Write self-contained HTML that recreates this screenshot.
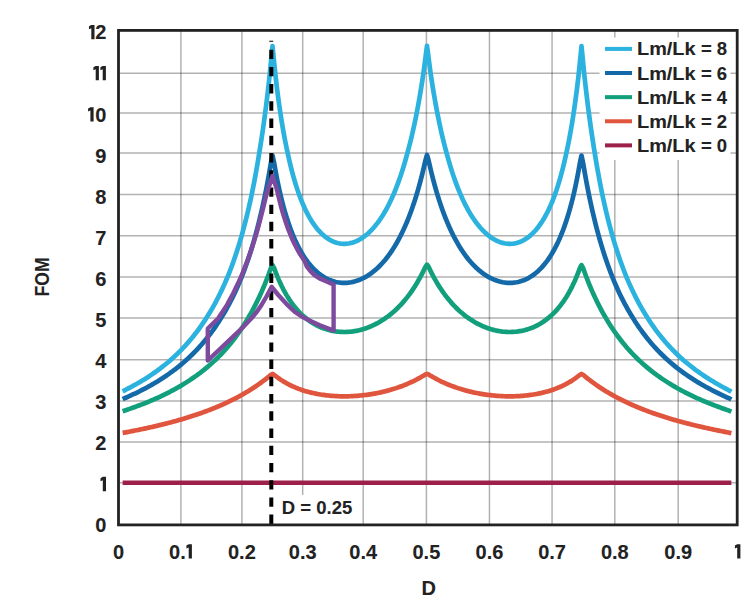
<!DOCTYPE html>
<html><head><meta charset="utf-8"><style>
html,body{margin:0;padding:0;background:#fff;}
body{width:755px;height:602px;position:relative;overflow:hidden;}
svg{position:absolute;left:0;top:0;}
.t{position:absolute;font-family:"Liberation Sans", sans-serif;font-weight:bold;color:#222;white-space:nowrap;line-height:1;-webkit-text-stroke:0.1px #222;}
</style></head><body>
<svg width="755" height="602" viewBox="0 0 755 602">
<rect x="0" y="0" width="755" height="602" fill="#ffffff"/>
<path d="M180.90 30.4V524.9 M241.90 30.4V524.9 M302.70 30.4V524.9 M363.20 30.4V524.9 M426.40 30.4V524.9 M489.45 30.4V524.9 M552.06 30.4V524.9 M614.80 30.4V524.9 M678.20 30.4V524.9" stroke="#000000" stroke-opacity="0.3" stroke-width="1.5" fill="none"/>
<path d="M118.5 482.70H737.2 M118.5 441.96H737.2 M118.5 400.90H737.2 M118.5 359.70H737.2 M118.5 318.10H737.2 M118.5 277.10H737.2 M118.5 235.70H737.2 M118.5 194.45H737.2 M118.5 152.96H737.2 M118.5 113.05H737.2 M118.5 73.20H737.2" stroke="#000000" stroke-opacity="0.3" stroke-width="1.5" fill="none"/>
<rect x="599.5" y="37.5" width="131" height="122.5" fill="#ffffff"/>
<rect x="275.5" y="495" width="86.5" height="29" fill="#ffffff"/>
<path d="M122.64 391.29 L124.18 390.53 L125.72 389.74 L127.27 388.96 L128.81 388.15 L130.36 387.35 L131.91 386.51 L133.45 385.68 L135.00 384.82 L136.54 383.96 L138.09 383.07 L139.63 382.18 L141.18 381.25 L142.72 380.33 L144.26 379.38 L145.81 378.42 L147.35 377.43 L148.90 376.43 L150.44 375.40 L151.99 374.37 L153.53 373.30 L155.08 372.23 L156.62 371.12 L158.17 370.00 L159.72 368.84 L161.26 367.68 L162.81 366.48 L164.35 365.26 L165.90 364.01 L167.44 362.74 L168.99 361.43 L170.53 360.11 L172.07 358.74 L173.62 357.34 L175.16 355.90 L176.71 354.44 L178.25 352.94 L179.80 351.41 L181.34 349.83 L182.89 348.23 L184.44 346.57 L185.98 344.89 L187.53 343.16 L189.07 341.39 L190.62 339.57 L192.16 337.71 L193.70 335.79 L195.25 333.83 L196.80 331.81 L198.34 329.74 L199.88 327.61 L201.43 325.43 L202.98 323.17 L204.52 320.87 L206.06 318.48 L207.61 316.06 L209.16 313.57 L210.70 311.01 L212.25 308.36 L213.79 305.64 L215.33 302.82 L216.88 299.92 L218.43 296.92 L219.97 293.82 L221.51 290.61 L223.06 287.30 L224.60 283.86 L226.15 280.31 L227.69 276.61 L229.24 272.76 L230.78 268.74 L232.33 264.58 L233.88 260.25 L235.42 255.75 L236.97 251.06 L238.51 246.19 L240.06 241.09 L241.60 235.78 L243.15 230.24 L244.69 224.46 L246.23 218.40 L247.78 212.06 L249.32 205.40 L250.87 198.41 L252.41 191.03 L253.96 183.25 L255.50 175.03 L257.05 166.36 L258.60 157.19 L260.14 147.68 L261.69 137.76 L263.23 127.22 L264.77 115.99 L266.32 104.02 L267.87 91.22 L269.41 77.50 L270.96 61.98 L272.50 46.11 L274.04 61.57 L275.59 76.60 L277.13 89.49 L278.68 101.27 L280.23 112.02 L281.77 121.92 L283.31 130.99 L284.86 139.38 L286.40 147.11 L287.95 154.33 L289.50 161.22 L291.04 167.64 L292.58 173.59 L294.13 179.14 L295.67 184.30 L297.22 189.13 L298.76 193.61 L300.31 197.80 L301.86 201.69 L303.40 205.34 L304.94 208.73 L306.49 211.92 L308.03 214.88 L309.58 217.66 L311.12 220.24 L312.67 222.65 L314.22 224.89 L315.76 226.98 L317.31 228.91 L318.85 230.71 L320.39 232.36 L321.94 233.89 L323.49 235.28 L325.03 236.58 L326.58 237.74 L328.12 238.80 L329.67 239.74 L331.21 240.59 L332.75 241.32 L334.30 241.97 L335.85 242.50 L337.39 242.95 L338.94 243.30 L340.48 243.57 L342.02 243.73 L343.57 243.82 L345.12 243.81 L346.66 243.72 L348.21 243.53 L349.75 243.27 L351.29 242.90 L352.84 242.47 L354.38 241.93 L355.93 241.32 L357.48 240.61 L359.02 239.83 L360.56 238.94 L362.11 237.97 L363.65 236.90 L365.20 235.75 L366.75 234.49 L368.29 233.15 L369.83 231.70 L371.38 230.15 L372.92 228.49 L374.47 226.74 L376.01 224.86 L377.56 222.88 L379.11 220.77 L380.65 218.54 L382.19 216.18 L383.74 213.69 L385.29 211.06 L386.83 208.29 L388.38 205.37 L389.92 202.29 L391.46 199.04 L393.01 195.62 L394.56 192.00 L396.10 188.18 L397.64 184.15 L399.19 179.91 L400.74 175.44 L402.28 170.72 L403.82 165.75 L405.37 160.49 L406.92 154.94 L408.46 149.23 L410.00 143.26 L411.55 136.94 L413.09 130.25 L414.64 123.14 L416.19 115.60 L417.73 107.59 L419.27 99.07 L420.82 89.98 L422.37 80.27 L423.91 69.64 L425.45 57.69 L427.00 45.76 L428.54 57.55 L430.09 69.52 L431.63 80.15 L433.18 89.88 L434.72 98.96 L436.27 107.51 L437.81 115.51 L439.36 123.07 L440.90 130.16 L442.45 136.88 L444.00 143.19 L445.54 149.17 L447.08 154.88 L448.63 160.44 L450.18 165.68 L451.72 170.68 L453.26 175.38 L454.81 179.87 L456.36 184.10 L457.90 188.14 L459.44 191.95 L460.99 195.59 L462.54 199.00 L464.08 202.26 L465.62 205.33 L467.17 208.27 L468.71 211.03 L470.26 213.67 L471.81 216.15 L473.35 218.52 L474.89 220.74 L476.44 222.86 L477.99 224.84 L479.53 226.72 L481.07 228.48 L482.62 230.14 L484.17 231.68 L485.71 233.14 L487.25 234.48 L488.80 235.74 L490.35 236.89 L491.89 237.97 L493.44 238.93 L494.98 239.82 L496.53 240.61 L498.07 241.32 L499.62 241.94 L501.16 242.47 L502.71 242.91 L504.25 243.27 L505.79 243.54 L507.34 243.72 L508.88 243.82 L510.43 243.83 L511.97 243.75 L513.52 243.58 L515.07 243.32 L516.61 242.97 L518.15 242.52 L519.70 241.98 L521.25 241.34 L522.79 240.61 L524.34 239.77 L525.88 238.82 L527.42 237.77 L528.97 236.60 L530.51 235.32 L532.06 233.92 L533.61 232.40 L535.15 230.74 L536.69 228.95 L538.24 227.02 L539.79 224.93 L541.33 222.69 L542.88 220.29 L544.42 217.70 L545.96 214.93 L547.51 211.97 L549.06 208.79 L550.60 205.39 L552.14 201.76 L553.69 197.86 L555.24 193.69 L556.78 189.19 L558.33 184.38 L559.87 179.22 L561.41 173.68 L562.96 167.73 L564.50 161.33 L566.05 154.43 L567.60 147.22 L569.14 139.49 L570.68 131.12 L572.23 122.04 L573.78 112.17 L575.32 101.41 L576.87 89.67 L578.41 76.77 L579.96 61.80 L581.50 46.14 L583.04 61.81 L584.59 77.38 L586.13 91.09 L587.68 103.92 L589.22 115.88 L590.77 127.14 L592.32 137.67 L593.86 147.61 L595.40 157.10 L596.95 166.30 L598.50 174.96 L600.04 183.19 L601.59 190.97 L603.13 198.36 L604.67 205.34 L606.22 212.02 L607.76 218.35 L609.31 224.43 L610.86 230.20 L612.40 235.75 L613.94 241.05 L615.49 246.16 L617.04 251.03 L618.58 255.73 L620.12 260.23 L621.67 264.57 L623.21 268.72 L624.76 272.74 L626.31 276.60 L627.85 280.30 L629.39 283.85 L630.94 287.29 L632.49 290.60 L634.03 293.82 L635.58 296.91 L637.12 299.92 L638.66 302.82 L640.21 305.64 L641.75 308.36 L643.30 311.01 L644.85 313.58 L646.39 316.07 L647.94 318.49 L649.48 320.87 L651.02 323.19 L652.57 325.44 L654.12 327.62 L655.66 329.76 L657.21 331.83 L658.75 333.85 L660.29 335.81 L661.84 337.73 L663.38 339.59 L664.93 341.41 L666.48 343.18 L668.02 344.92 L669.56 346.60 L671.11 348.25 L672.65 349.86 L674.20 351.43 L675.75 352.97 L677.29 354.47 L678.84 355.94 L680.38 357.37 L681.92 358.78 L683.47 360.15 L685.01 361.48 L686.56 362.78 L688.11 364.05 L689.65 365.30 L691.20 366.52 L692.74 367.72 L694.28 368.89 L695.83 370.04 L697.38 371.17 L698.92 372.28 L700.47 373.36 L702.01 374.43 L703.55 375.47 L705.10 376.49 L706.64 377.50 L708.19 378.49 L709.74 379.46 L711.28 380.41 L712.83 381.35 L714.37 382.27 L715.91 383.18 L717.46 384.07 L719.00 384.95 L720.55 385.81 L722.10 386.68 L723.64 387.51 L725.19 388.36 L726.73 389.18 L728.27 390.04 L729.82 390.86 L731.37 391.79" stroke="#2bb2de" stroke-width="4.7" fill="none" stroke-linejoin="round" stroke-linecap="butt"/>
<path d="M122.64 399.06 L124.18 398.40 L125.72 397.73 L127.27 397.05 L128.81 396.37 L130.36 395.67 L131.91 394.96 L133.45 394.24 L135.00 393.51 L136.54 392.77 L138.09 392.02 L139.63 391.25 L141.18 390.47 L142.72 389.68 L144.26 388.88 L145.81 388.06 L147.35 387.23 L148.90 386.38 L150.44 385.51 L151.99 384.63 L153.53 383.74 L155.08 382.83 L156.62 381.90 L158.17 380.96 L159.72 379.99 L161.26 379.01 L162.81 378.01 L164.35 376.99 L165.90 375.96 L167.44 374.90 L168.99 373.82 L170.53 372.71 L172.07 371.59 L173.62 370.44 L175.16 369.27 L176.71 368.07 L178.25 366.85 L179.80 365.60 L181.34 364.33 L182.89 363.03 L184.44 361.69 L185.98 360.33 L187.53 358.93 L189.07 357.50 L190.62 356.02 L192.16 354.52 L193.70 352.98 L195.25 351.40 L196.80 349.78 L198.34 348.13 L199.88 346.43 L201.43 344.69 L202.98 342.90 L204.52 341.07 L206.06 339.19 L207.61 337.27 L209.16 335.29 L210.70 333.25 L212.25 331.16 L213.79 329.01 L215.33 326.80 L216.88 324.53 L218.43 322.19 L219.97 319.78 L221.51 317.31 L223.06 314.78 L224.60 312.18 L226.15 309.50 L227.69 306.73 L229.24 303.87 L230.78 300.92 L232.33 297.87 L233.88 294.71 L235.42 291.44 L236.97 288.06 L238.51 284.55 L240.06 280.92 L241.60 277.14 L243.15 273.19 L244.69 269.08 L246.23 264.81 L247.78 260.37 L249.32 255.74 L250.87 250.92 L252.41 245.88 L253.96 240.63 L255.50 235.14 L257.05 229.42 L258.60 223.42 L260.14 217.14 L261.69 210.54 L263.23 203.61 L264.77 196.32 L266.32 188.60 L267.87 180.45 L269.41 171.84 L270.96 162.72 L272.50 155.52 L274.04 162.49 L275.59 171.27 L277.13 179.36 L278.68 186.84 L280.23 193.76 L281.77 200.15 L283.31 206.09 L284.86 211.61 L286.40 216.76 L287.95 221.57 L289.50 226.06 L291.04 230.26 L292.58 234.19 L294.13 237.88 L295.67 241.35 L297.22 244.59 L298.76 247.64 L300.31 250.50 L301.86 253.18 L303.40 255.70 L304.94 258.06 L306.49 260.27 L308.03 262.35 L309.58 264.29 L311.12 266.11 L312.67 267.81 L314.22 269.39 L315.76 270.87 L317.31 272.25 L318.85 273.53 L320.39 274.71 L321.94 275.80 L323.49 276.80 L325.03 277.71 L326.58 278.54 L328.12 279.29 L329.67 279.96 L331.21 280.56 L332.75 281.09 L334.30 281.54 L335.85 281.93 L337.39 282.25 L338.94 282.50 L340.48 282.68 L342.02 282.81 L343.57 282.86 L345.12 282.86 L346.66 282.79 L348.21 282.66 L349.75 282.47 L351.29 282.22 L352.84 281.90 L354.38 281.52 L355.93 281.08 L357.48 280.58 L359.02 280.02 L360.56 279.39 L362.11 278.70 L363.65 277.95 L365.20 277.13 L366.75 276.23 L368.29 275.27 L369.83 274.23 L371.38 273.13 L372.92 271.95 L374.47 270.70 L376.01 269.37 L377.56 267.97 L379.11 266.48 L380.65 264.91 L382.19 263.26 L383.74 261.52 L385.29 259.68 L386.83 257.75 L388.38 255.72 L389.92 253.59 L391.46 251.36 L393.01 249.01 L394.56 246.55 L396.10 243.96 L397.64 241.25 L399.19 238.40 L400.74 235.42 L402.28 232.30 L403.82 229.02 L405.37 225.59 L406.92 221.98 L408.46 218.18 L410.00 214.20 L411.55 210.01 L413.09 205.60 L414.64 200.97 L416.19 196.08 L417.73 190.91 L419.27 185.45 L420.82 179.68 L422.37 173.58 L423.91 167.13 L425.45 160.29 L427.00 154.90 L428.54 160.22 L430.09 167.05 L431.63 173.51 L433.18 179.61 L434.72 185.38 L436.27 190.85 L437.81 196.03 L439.36 200.91 L440.90 205.55 L442.45 209.96 L444.00 214.16 L445.54 218.14 L447.08 221.94 L448.63 225.55 L450.18 228.99 L451.72 232.26 L453.26 235.39 L454.81 238.37 L456.36 241.22 L457.90 243.93 L459.44 246.52 L460.99 248.98 L462.54 251.33 L464.08 253.57 L465.62 255.70 L467.17 257.73 L468.71 259.66 L470.26 261.50 L471.81 263.24 L473.35 264.90 L474.89 266.47 L476.44 267.95 L477.99 269.36 L479.53 270.69 L481.07 271.94 L482.62 273.12 L484.17 274.23 L485.71 275.26 L487.25 276.23 L488.80 277.12 L490.35 277.94 L491.89 278.70 L493.44 279.39 L494.98 280.02 L496.53 280.58 L498.07 281.09 L499.62 281.53 L501.16 281.90 L502.71 282.22 L504.25 282.47 L505.79 282.67 L507.34 282.80 L508.88 282.87 L510.43 282.87 L511.97 282.82 L513.52 282.70 L515.07 282.51 L516.61 282.26 L518.15 281.94 L519.70 281.56 L521.25 281.10 L522.79 280.58 L524.34 279.98 L525.88 279.31 L527.42 278.56 L528.97 277.73 L530.51 276.82 L532.06 275.82 L533.61 274.73 L535.15 273.55 L536.69 272.28 L538.24 270.90 L539.79 269.42 L541.33 267.84 L542.88 266.14 L544.42 264.33 L545.96 262.38 L547.51 260.31 L549.06 258.10 L550.60 255.74 L552.14 253.23 L553.69 250.55 L555.24 247.69 L556.78 244.64 L558.33 241.40 L559.87 237.94 L561.41 234.25 L562.96 230.32 L564.50 226.13 L566.05 221.64 L567.60 216.84 L569.14 211.69 L570.68 206.17 L572.23 200.24 L573.78 193.86 L575.32 186.94 L576.87 179.47 L578.41 171.39 L579.96 162.62 L581.50 155.55 L583.04 162.64 L584.59 171.76 L586.13 180.38 L587.68 188.54 L589.22 196.26 L590.77 203.56 L592.32 210.49 L593.86 217.09 L595.40 223.38 L596.95 229.38 L598.50 235.10 L600.04 240.59 L601.59 245.85 L603.13 250.88 L604.67 255.71 L606.22 260.34 L607.76 264.79 L609.31 269.06 L610.86 273.17 L612.40 277.12 L613.94 280.90 L615.49 284.53 L617.04 288.04 L618.58 291.43 L620.12 294.70 L621.67 297.86 L623.21 300.91 L624.76 303.87 L626.31 306.73 L627.85 309.50 L629.39 312.18 L630.94 314.78 L632.49 317.30 L634.03 319.78 L635.58 322.19 L637.12 324.53 L638.66 326.81 L640.21 329.02 L641.75 331.17 L643.30 333.26 L644.85 335.29 L646.39 337.28 L647.94 339.21 L649.48 341.09 L651.02 342.92 L652.57 344.70 L654.12 346.44 L655.66 348.14 L657.21 349.80 L658.75 351.42 L660.29 353.00 L661.84 354.54 L663.38 356.04 L664.93 357.52 L666.48 358.96 L668.02 360.36 L669.56 361.72 L671.11 363.05 L672.65 364.35 L674.20 365.63 L675.75 366.88 L677.29 368.10 L678.84 369.30 L680.38 370.47 L681.92 371.62 L683.47 372.75 L685.01 373.85 L686.56 374.93 L688.11 375.99 L689.65 377.03 L691.20 378.05 L692.74 379.06 L694.28 380.04 L695.83 381.00 L697.38 381.95 L698.92 382.88 L700.47 383.79 L702.01 384.69 L703.55 385.57 L705.10 386.44 L706.64 387.29 L708.19 388.13 L709.74 388.95 L711.28 389.76 L712.83 390.56 L714.37 391.34 L715.91 392.12 L717.46 392.88 L719.00 393.63 L720.55 394.37 L722.10 395.11 L723.64 395.83 L725.19 396.55 L726.73 397.27 L728.27 397.99 L729.82 398.73 L731.37 399.51" stroke="#1469a9" stroke-width="4.7" fill="none" stroke-linejoin="round" stroke-linecap="butt"/>
<path d="M122.64 411.19 L124.18 410.69 L125.72 410.18 L127.27 409.66 L128.81 409.14 L130.36 408.60 L131.91 408.07 L133.45 407.52 L135.00 406.96 L136.54 406.40 L138.09 405.83 L139.63 405.25 L141.18 404.66 L142.72 404.07 L144.26 403.46 L145.81 402.85 L147.35 402.22 L148.90 401.59 L150.44 400.94 L151.99 400.29 L153.53 399.62 L155.08 398.94 L156.62 398.25 L158.17 397.55 L159.72 396.84 L161.26 396.11 L162.81 395.38 L164.35 394.63 L165.90 393.87 L167.44 393.09 L168.99 392.30 L170.53 391.50 L172.07 390.68 L173.62 389.85 L175.16 389.00 L176.71 388.14 L178.25 387.26 L179.80 386.37 L181.34 385.46 L182.89 384.53 L184.44 383.58 L185.98 382.62 L187.53 381.63 L189.07 380.63 L190.62 379.61 L192.16 378.56 L193.70 377.50 L195.25 376.41 L196.80 375.30 L198.34 374.17 L199.88 373.01 L201.43 371.83 L202.98 370.63 L204.52 369.39 L206.06 368.13 L207.61 366.84 L209.16 365.53 L210.70 364.18 L212.25 362.80 L213.79 361.39 L215.33 359.94 L216.88 358.45 L218.43 356.92 L219.97 355.35 L221.51 353.75 L223.06 352.10 L224.60 350.41 L226.15 348.68 L227.69 346.90 L229.24 345.07 L230.78 343.20 L232.33 341.27 L233.88 339.29 L235.42 337.26 L236.97 335.17 L238.51 333.01 L240.06 330.80 L241.60 328.52 L243.15 326.17 L244.69 323.75 L246.23 321.25 L247.78 318.67 L249.32 316.04 L250.87 313.34 L252.41 310.54 L253.96 307.65 L255.50 304.67 L257.05 301.57 L258.60 298.37 L260.14 295.05 L261.69 291.61 L263.23 288.04 L264.77 284.34 L266.32 280.49 L267.87 276.48 L269.41 272.27 L270.96 267.92 L272.50 265.08 L274.04 267.81 L275.59 272.00 L277.13 275.94 L278.68 279.62 L280.23 283.05 L281.77 286.28 L283.31 289.31 L284.86 292.17 L286.40 294.86 L287.95 297.39 L289.50 299.78 L291.04 302.03 L292.58 304.15 L294.13 306.16 L295.67 308.05 L297.22 309.83 L298.76 311.52 L300.31 313.11 L301.86 314.61 L303.40 316.02 L304.94 317.36 L306.49 318.62 L308.03 319.82 L309.58 320.95 L311.12 322.01 L312.67 323.00 L314.22 323.93 L315.76 324.80 L317.31 325.62 L318.85 326.37 L320.39 327.07 L321.94 327.72 L323.49 328.32 L325.03 328.87 L326.58 329.36 L328.12 329.82 L329.67 330.23 L331.21 330.59 L332.75 330.91 L334.30 331.18 L335.85 331.42 L337.39 331.61 L338.94 331.77 L340.48 331.88 L342.02 331.95 L343.57 331.99 L345.12 331.99 L346.66 331.94 L348.21 331.86 L349.75 331.75 L351.29 331.59 L352.84 331.40 L354.38 331.17 L355.93 330.91 L357.48 330.60 L359.02 330.26 L360.56 329.88 L362.11 329.46 L363.65 329.01 L365.20 328.51 L366.75 327.98 L368.29 327.40 L369.83 326.79 L371.38 326.14 L372.92 325.44 L374.47 324.70 L376.01 323.92 L377.56 323.10 L379.11 322.23 L380.65 321.31 L382.19 320.35 L383.74 319.34 L385.29 318.28 L386.83 317.19 L388.38 316.04 L389.92 314.84 L391.46 313.59 L393.01 312.28 L394.56 310.91 L396.10 309.49 L397.64 308.00 L399.19 306.44 L400.74 304.82 L402.28 303.13 L403.82 301.37 L405.37 299.53 L406.92 297.61 L408.46 295.61 L410.00 293.52 L411.55 291.34 L413.09 289.07 L414.64 286.70 L416.19 284.22 L417.73 281.64 L419.27 278.93 L420.82 276.10 L422.37 273.12 L423.91 270.01 L425.45 266.77 L427.00 264.65 L428.54 266.73 L430.09 269.97 L431.63 273.09 L433.18 276.07 L434.72 278.91 L436.27 281.61 L437.81 284.19 L439.36 286.67 L440.90 289.04 L442.45 291.32 L444.00 293.50 L445.54 295.59 L447.08 297.59 L448.63 299.51 L450.18 301.35 L451.72 303.11 L453.26 304.81 L454.81 306.43 L456.36 307.98 L457.90 309.47 L459.44 310.90 L460.99 312.27 L462.54 313.58 L464.08 314.83 L465.62 316.03 L467.17 317.18 L468.71 318.27 L470.26 319.33 L471.81 320.34 L473.35 321.31 L474.89 322.22 L476.44 323.09 L477.99 323.92 L479.53 324.70 L481.07 325.44 L482.62 326.13 L484.17 326.79 L485.71 327.40 L487.25 327.98 L488.80 328.51 L490.35 329.01 L491.89 329.46 L493.44 329.88 L494.98 330.26 L496.53 330.60 L498.07 330.91 L499.62 331.18 L501.16 331.41 L502.71 331.60 L504.25 331.75 L505.79 331.87 L507.34 331.95 L508.88 331.99 L510.43 332.00 L511.97 331.96 L513.52 331.89 L515.07 331.77 L516.61 331.62 L518.15 331.43 L519.70 331.19 L521.25 330.92 L522.79 330.60 L524.34 330.24 L525.88 329.83 L527.42 329.38 L528.97 328.88 L530.51 328.33 L532.06 327.73 L533.61 327.09 L535.15 326.39 L536.69 325.63 L538.24 324.82 L539.79 323.95 L541.33 323.02 L542.88 322.03 L544.42 320.97 L545.96 319.84 L547.51 318.65 L549.06 317.38 L550.60 316.05 L552.14 314.64 L553.69 313.14 L555.24 311.55 L556.78 309.86 L558.33 308.08 L559.87 306.19 L561.41 304.19 L562.96 302.06 L564.50 299.81 L566.05 297.43 L567.60 294.90 L569.14 292.21 L570.68 289.36 L572.23 286.33 L573.78 283.10 L575.32 279.67 L576.87 276.00 L578.41 272.06 L579.96 267.87 L581.50 265.10 L583.04 267.90 L584.59 272.25 L586.13 276.45 L587.68 280.46 L589.22 284.32 L590.77 288.02 L592.32 291.59 L593.86 295.03 L595.40 298.35 L596.95 301.56 L598.50 304.65 L600.04 307.64 L601.59 310.53 L603.13 313.33 L604.67 316.03 L606.22 318.66 L607.76 321.24 L609.31 323.74 L610.86 326.16 L612.40 328.51 L613.94 330.79 L615.49 333.01 L617.04 335.16 L618.58 337.26 L620.12 339.29 L621.67 341.27 L623.21 343.20 L624.76 345.07 L626.31 346.90 L627.85 348.68 L629.39 350.41 L630.94 352.10 L632.49 353.75 L634.03 355.36 L635.58 356.93 L637.12 358.46 L638.66 359.95 L640.21 361.40 L641.75 362.81 L643.30 364.19 L644.85 365.54 L646.39 366.86 L647.94 368.14 L649.48 369.41 L651.02 370.64 L652.57 371.85 L654.12 373.03 L655.66 374.19 L657.21 375.32 L658.75 376.43 L660.29 377.52 L661.84 378.58 L663.38 379.63 L664.93 380.65 L666.48 381.65 L668.02 382.64 L669.56 383.60 L671.11 384.55 L672.65 385.48 L674.20 386.39 L675.75 387.29 L677.29 388.17 L678.84 389.03 L680.38 389.88 L681.92 390.71 L683.47 391.53 L685.01 392.33 L686.56 393.12 L688.11 393.90 L689.65 394.66 L691.20 395.41 L692.74 396.15 L694.28 396.88 L695.83 397.59 L697.38 398.29 L698.92 398.98 L700.47 399.66 L702.01 400.33 L703.55 400.99 L705.10 401.64 L706.64 402.28 L708.19 402.91 L709.74 403.53 L711.28 404.14 L712.83 404.74 L714.37 405.33 L715.91 405.92 L717.46 406.50 L719.00 407.07 L720.55 407.63 L722.10 408.19 L723.64 408.75 L725.19 409.30 L726.73 409.85 L728.27 410.41 L729.82 410.98 L731.37 411.58" stroke="#12a07c" stroke-width="4.7" fill="none" stroke-linejoin="round" stroke-linecap="butt"/>
<path d="M122.64 432.92 L124.18 432.64 L125.72 432.35 L127.27 432.07 L128.81 431.77 L130.36 431.48 L131.91 431.18 L133.45 430.88 L135.00 430.57 L136.54 430.27 L138.09 429.95 L139.63 429.64 L141.18 429.32 L142.72 428.99 L144.26 428.67 L145.81 428.33 L147.35 428.00 L148.90 427.66 L150.44 427.31 L151.99 426.96 L153.53 426.61 L155.08 426.25 L156.62 425.89 L158.17 425.53 L159.72 425.16 L161.26 424.78 L162.81 424.40 L164.35 424.01 L165.90 423.62 L167.44 423.22 L168.99 422.82 L170.53 422.42 L172.07 422.00 L173.62 421.58 L175.16 421.16 L176.71 420.73 L178.25 420.29 L179.80 419.85 L181.34 419.40 L182.89 418.95 L184.44 418.49 L185.98 418.02 L187.53 417.54 L189.07 417.06 L190.62 416.57 L192.16 416.08 L193.70 415.57 L195.25 415.06 L196.80 414.54 L198.34 414.01 L199.88 413.48 L201.43 412.93 L202.98 412.38 L204.52 411.82 L206.06 411.25 L207.61 410.67 L209.16 410.08 L210.70 409.48 L212.25 408.87 L213.79 408.26 L215.33 407.63 L216.88 406.99 L218.43 406.34 L219.97 405.67 L221.51 405.00 L223.06 404.31 L224.60 403.62 L226.15 402.91 L227.69 402.18 L229.24 401.45 L230.78 400.70 L232.33 399.93 L233.88 399.15 L235.42 398.36 L236.97 397.55 L238.51 396.72 L240.06 395.88 L241.60 395.02 L243.15 394.14 L244.69 393.25 L246.23 392.34 L247.78 391.41 L249.32 390.46 L250.87 389.49 L252.41 388.50 L253.96 387.49 L255.50 386.46 L257.05 385.40 L258.60 384.33 L260.14 383.22 L261.69 382.10 L263.23 380.95 L264.77 379.77 L266.32 378.56 L267.87 377.32 L269.41 376.06 L270.96 374.77 L272.50 373.95 L274.04 374.74 L275.59 375.98 L277.13 377.16 L278.68 378.29 L280.23 379.36 L281.77 380.38 L283.31 381.36 L284.86 382.28 L286.40 383.16 L287.95 384.00 L289.50 384.80 L291.04 385.56 L292.58 386.28 L294.13 386.97 L295.67 387.63 L297.22 388.25 L298.76 388.85 L300.31 389.41 L301.86 389.95 L303.40 390.45 L304.94 390.94 L306.49 391.39 L308.03 391.82 L309.58 392.23 L311.12 392.62 L312.67 392.98 L314.22 393.32 L315.76 393.64 L317.31 393.94 L318.85 394.22 L320.39 394.48 L321.94 394.72 L323.49 394.94 L325.03 395.15 L326.58 395.34 L328.12 395.51 L329.67 395.66 L331.21 395.80 L332.75 395.92 L334.30 396.02 L335.85 396.11 L337.39 396.19 L338.94 396.24 L340.48 396.29 L342.02 396.32 L343.57 396.33 L345.12 396.33 L346.66 396.31 L348.21 396.28 L349.75 396.24 L351.29 396.18 L352.84 396.11 L354.38 396.02 L355.93 395.92 L357.48 395.80 L359.02 395.67 L360.56 395.53 L362.11 395.37 L363.65 395.20 L365.20 395.02 L366.75 394.82 L368.29 394.60 L369.83 394.38 L371.38 394.13 L372.92 393.87 L374.47 393.60 L376.01 393.32 L377.56 393.01 L379.11 392.70 L380.65 392.36 L382.19 392.01 L383.74 391.65 L385.29 391.27 L386.83 390.87 L388.38 390.46 L389.92 390.03 L391.46 389.58 L393.01 389.12 L394.56 388.63 L396.10 388.13 L397.64 387.61 L399.19 387.07 L400.74 386.51 L402.28 385.93 L403.82 385.34 L405.37 384.71 L406.92 384.07 L408.46 383.41 L410.00 382.72 L411.55 382.01 L413.09 381.28 L414.64 380.52 L416.19 379.73 L417.73 378.92 L419.27 378.08 L420.82 377.21 L422.37 376.32 L423.91 375.39 L425.45 374.44 L427.00 373.82 L428.54 374.43 L430.09 375.38 L431.63 376.31 L433.18 377.21 L434.72 378.07 L436.27 378.91 L437.81 379.72 L439.36 380.51 L440.90 381.27 L442.45 382.01 L444.00 382.72 L445.54 383.40 L447.08 384.07 L448.63 384.71 L450.18 385.33 L451.72 385.93 L453.26 386.51 L454.81 387.07 L456.36 387.61 L457.90 388.13 L459.44 388.63 L460.99 389.11 L462.54 389.58 L464.08 390.03 L465.62 390.46 L467.17 390.87 L468.71 391.27 L470.26 391.65 L471.81 392.01 L473.35 392.36 L474.89 392.69 L476.44 393.01 L477.99 393.31 L479.53 393.60 L481.07 393.87 L482.62 394.13 L484.17 394.38 L485.71 394.60 L487.25 394.82 L488.80 395.02 L490.35 395.20 L491.89 395.37 L493.44 395.53 L494.98 395.68 L496.53 395.80 L498.07 395.92 L499.62 396.02 L501.16 396.11 L502.71 396.18 L504.25 396.24 L505.79 396.28 L507.34 396.32 L508.88 396.33 L510.43 396.33 L511.97 396.32 L513.52 396.29 L515.07 396.25 L516.61 396.19 L518.15 396.12 L519.70 396.03 L521.25 395.92 L522.79 395.80 L524.34 395.67 L525.88 395.51 L527.42 395.34 L528.97 395.16 L530.51 394.95 L532.06 394.73 L533.61 394.49 L535.15 394.23 L536.69 393.95 L538.24 393.65 L539.79 393.33 L541.33 392.99 L542.88 392.62 L544.42 392.24 L545.96 391.83 L547.51 391.40 L549.06 390.95 L550.60 390.46 L552.14 389.96 L553.69 389.42 L555.24 388.86 L556.78 388.27 L558.33 387.64 L559.87 386.99 L561.41 386.30 L562.96 385.57 L564.50 384.81 L566.05 384.02 L567.60 383.18 L569.14 382.30 L570.68 381.37 L572.23 380.40 L573.78 379.38 L575.32 378.31 L576.87 377.18 L578.41 376.00 L579.96 374.77 L581.50 373.96 L583.04 374.77 L584.59 376.06 L586.13 377.32 L587.68 378.56 L589.22 379.77 L590.77 380.94 L592.32 382.10 L593.86 383.22 L595.40 384.33 L596.95 385.40 L598.50 386.46 L600.04 387.49 L601.59 388.50 L603.13 389.49 L604.67 390.46 L606.22 391.41 L607.76 392.34 L609.31 393.25 L610.86 394.14 L612.40 395.02 L613.94 395.88 L615.49 396.72 L617.04 397.55 L618.58 398.36 L620.12 399.15 L621.67 399.94 L623.21 400.70 L624.76 401.45 L626.31 402.19 L627.85 402.91 L629.39 403.62 L630.94 404.32 L632.49 405.01 L634.03 405.68 L635.58 406.34 L637.12 406.99 L638.66 407.63 L640.21 408.26 L641.75 408.88 L643.30 409.49 L644.85 410.09 L646.39 410.68 L647.94 411.26 L649.48 411.83 L651.02 412.39 L652.57 412.94 L654.12 413.49 L655.66 414.03 L657.21 414.55 L658.75 415.07 L660.29 415.59 L661.84 416.09 L663.38 416.59 L664.93 417.08 L666.48 417.56 L668.02 418.03 L669.56 418.50 L671.11 418.97 L672.65 419.42 L674.20 419.87 L675.75 420.31 L677.29 420.75 L678.84 421.18 L680.38 421.60 L681.92 422.02 L683.47 422.44 L685.01 422.85 L686.56 423.25 L688.11 423.65 L689.65 424.04 L691.20 424.42 L692.74 424.81 L694.28 425.18 L695.83 425.56 L697.38 425.92 L698.92 426.29 L700.47 426.65 L702.01 427.00 L703.55 427.35 L705.10 427.70 L706.64 428.04 L708.19 428.38 L709.74 428.71 L711.28 429.04 L712.83 429.37 L714.37 429.69 L715.91 430.01 L717.46 430.33 L719.00 430.65 L720.55 430.96 L722.10 431.27 L723.64 431.58 L725.19 431.89 L726.73 432.20 L728.27 432.51 L729.82 432.84 L731.37 433.19" stroke="#e0553d" stroke-width="4.7" fill="none" stroke-linejoin="round" stroke-linecap="butt"/>
<path d="M122.64 482.70H731.37" stroke="#9c2049" stroke-width="4.5" fill="none"/>
<path d="M271.3 524V40.8" stroke="#000000" stroke-width="4.0" stroke-dasharray="9.4 7.82" fill="none"/>
<path d="M207.80 328.50 L218.30 318.30 L227.06 304.85 L229.87 299.60 L232.87 294.12 L235.89 287.74 L238.92 281.43 L241.95 274.74 L245.03 266.86 L248.11 259.05 L251.15 250.22 L254.13 240.85 L257.13 231.07 L260.15 219.85 L263.19 207.92 L266.24 195.24 L272.40 176.00 L276.65 188.67 L279.00 198.56 L281.35 207.88 L283.70 215.76 L286.04 222.96 L288.39 229.69 L290.74 235.45 L293.09 241.09 L295.44 245.83 L297.79 250.22 L300.13 254.37 L302.48 257.88 L304.83 261.41 L306.90 266.60 L310.90 271.60 L314.60 275.20 L319.50 278.40 L325.50 280.90 L333.60 284.60 L333.60 330.50 L319.80 325.30 L311.50 321.50 L303.20 317.40 L294.90 312.00 L286.60 304.10 L278.30 295.00 L271.70 286.80 L266.50 296.50 L261.50 305.00 L256.50 312.20 L251.50 318.30 L240.00 330.20 L207.80 360.50Z" stroke="#7e4a9e" stroke-width="4.4" fill="none" stroke-linejoin="round"/>
<rect x="118.5" y="30.4" width="618.7" height="494.5" stroke="#222222" stroke-width="2.8" fill="none"/>
<path d="M605 48.90H632" stroke="#2bb2de" stroke-width="4"/>
<path d="M605 73.02H632" stroke="#1469a9" stroke-width="4"/>
<path d="M605 97.14H632" stroke="#12a07c" stroke-width="4"/>
<path d="M605 121.26H632" stroke="#e0553d" stroke-width="4"/>
<path d="M605 145.38H632" stroke="#9c2049" stroke-width="4"/>
</svg>
<div class="t" style="left:106.30px;top:525.30px;font-size:20px;transform:translate(-100%,-50%)">0</div><div class="t" style="left:106.30px;top:443.15px;font-size:20px;transform:translate(-100%,-50%)">2</div><div class="t" style="left:106.30px;top:402.07px;font-size:20px;transform:translate(-100%,-50%)">3</div><div class="t" style="left:106.30px;top:361.00px;font-size:20px;transform:translate(-100%,-50%)">4</div><div class="t" style="left:106.30px;top:319.93px;font-size:20px;transform:translate(-100%,-50%)">5</div><div class="t" style="left:106.30px;top:278.85px;font-size:20px;transform:translate(-100%,-50%)">6</div><div class="t" style="left:106.30px;top:237.77px;font-size:20px;transform:translate(-100%,-50%)">7</div><div class="t" style="left:106.30px;top:196.70px;font-size:20px;transform:translate(-100%,-50%)">8</div><div class="t" style="left:106.30px;top:155.62px;font-size:20px;transform:translate(-100%,-50%)">9</div><div class="t" style="left:106.30px;top:114.55px;font-size:20px;transform:translate(-100%,-50%)">0</div><div class="t" style="left:106.30px;top:32.40px;font-size:20px;transform:translate(-100%,-50%)">2</div><div class="t" style="left:118.50px;top:551.50px;font-size:20px;transform:translate(-50%,-50%)">0</div><div class="t" style="left:169.10px;top:551.50px;font-size:20px;transform:translate(0,-50%)">0.</div><div class="t" style="left:241.90px;top:551.50px;font-size:20px;transform:translate(-50%,-50%)">0.2</div><div class="t" style="left:302.70px;top:551.50px;font-size:20px;transform:translate(-50%,-50%)">0.3</div><div class="t" style="left:363.20px;top:551.50px;font-size:20px;transform:translate(-50%,-50%)">0.4</div><div class="t" style="left:426.40px;top:551.50px;font-size:20px;transform:translate(-50%,-50%)">0.5</div><div class="t" style="left:489.45px;top:551.50px;font-size:20px;transform:translate(-50%,-50%)">0.6</div><div class="t" style="left:552.06px;top:551.50px;font-size:20px;transform:translate(-50%,-50%)">0.7</div><div class="t" style="left:614.80px;top:551.50px;font-size:20px;transform:translate(-50%,-50%)">0.8</div><div class="t" style="left:678.20px;top:551.50px;font-size:20px;transform:translate(-50%,-50%)">0.9</div><div class="t" style="left:637px;top:49.40px;font-size:18.5px;transform:translate(0,-50%) scaleX(1.075);transform-origin:0 50%">Lm/Lk</div><div class="t" style="left:706.50px;top:49.40px;font-size:18.5px;transform:translate(-50%,-50%)">=</div><div class="t" style="left:721.80px;top:49.40px;font-size:18.5px;transform:translate(-50%,-50%)">8</div><div class="t" style="left:637px;top:73.52px;font-size:18.5px;transform:translate(0,-50%) scaleX(1.075);transform-origin:0 50%">Lm/Lk</div><div class="t" style="left:706.50px;top:73.52px;font-size:18.5px;transform:translate(-50%,-50%)">=</div><div class="t" style="left:721.80px;top:73.52px;font-size:18.5px;transform:translate(-50%,-50%)">6</div><div class="t" style="left:637px;top:97.64px;font-size:18.5px;transform:translate(0,-50%) scaleX(1.075);transform-origin:0 50%">Lm/Lk</div><div class="t" style="left:706.50px;top:97.64px;font-size:18.5px;transform:translate(-50%,-50%)">=</div><div class="t" style="left:721.80px;top:97.64px;font-size:18.5px;transform:translate(-50%,-50%)">4</div><div class="t" style="left:637px;top:121.76px;font-size:18.5px;transform:translate(0,-50%) scaleX(1.075);transform-origin:0 50%">Lm/Lk</div><div class="t" style="left:706.50px;top:121.76px;font-size:18.5px;transform:translate(-50%,-50%)">=</div><div class="t" style="left:721.80px;top:121.76px;font-size:18.5px;transform:translate(-50%,-50%)">2</div><div class="t" style="left:637px;top:145.88px;font-size:18.5px;transform:translate(0,-50%) scaleX(1.075);transform-origin:0 50%">Lm/Lk</div><div class="t" style="left:706.50px;top:145.88px;font-size:18.5px;transform:translate(-50%,-50%)">=</div><div class="t" style="left:721.80px;top:145.88px;font-size:18.5px;transform:translate(-50%,-50%)">0</div><div class="t" style="left:317.00px;top:508.30px;font-size:18.5px;transform:translate(-50%,-50%)">D = 0.25</div><div class="t" style="left:428.80px;top:588.30px;font-size:20px;transform:translate(-50%,-50%)">D</div><div class="t" style="left:42.2px;top:277px;font-size:20px;transform:translate(-50%,-50%) rotate(-90deg) scaleX(0.88)">FOM</div>
<svg style="position:absolute;left:0;top:0" width="755" height="602"><path d="M100.50 478.13 L102.80 476.83 L106.00 476.83 L106.00 491.13 L102.80 491.13 L102.80 480.13 L100.50 481.13Z M88.10 108.45 L90.40 107.15 L93.60 107.15 L93.60 121.45 L90.40 121.45 L90.40 110.45 L88.10 111.45Z M93.40 67.37 L95.70 66.07 L98.90 66.07 L98.90 80.37 L95.70 80.37 L95.70 69.37 L93.40 70.37Z M100.40 67.37 L102.70 66.07 L105.90 66.07 L105.90 80.37 L102.70 80.37 L102.70 69.37 L100.40 70.37Z M89.00 26.30 L91.30 25.00 L94.50 25.00 L94.50 39.30 L91.30 39.30 L91.30 28.30 L89.00 29.30Z M186.40 545.50 L188.70 544.20 L191.90 544.20 L191.90 558.50 L188.70 558.50 L188.70 547.50 L186.40 548.50Z M734.90 545.50 L737.20 544.20 L740.40 544.20 L740.40 558.50 L737.20 558.50 L737.20 547.50 L734.90 548.50Z" fill="#222"/></svg>
</body></html>
